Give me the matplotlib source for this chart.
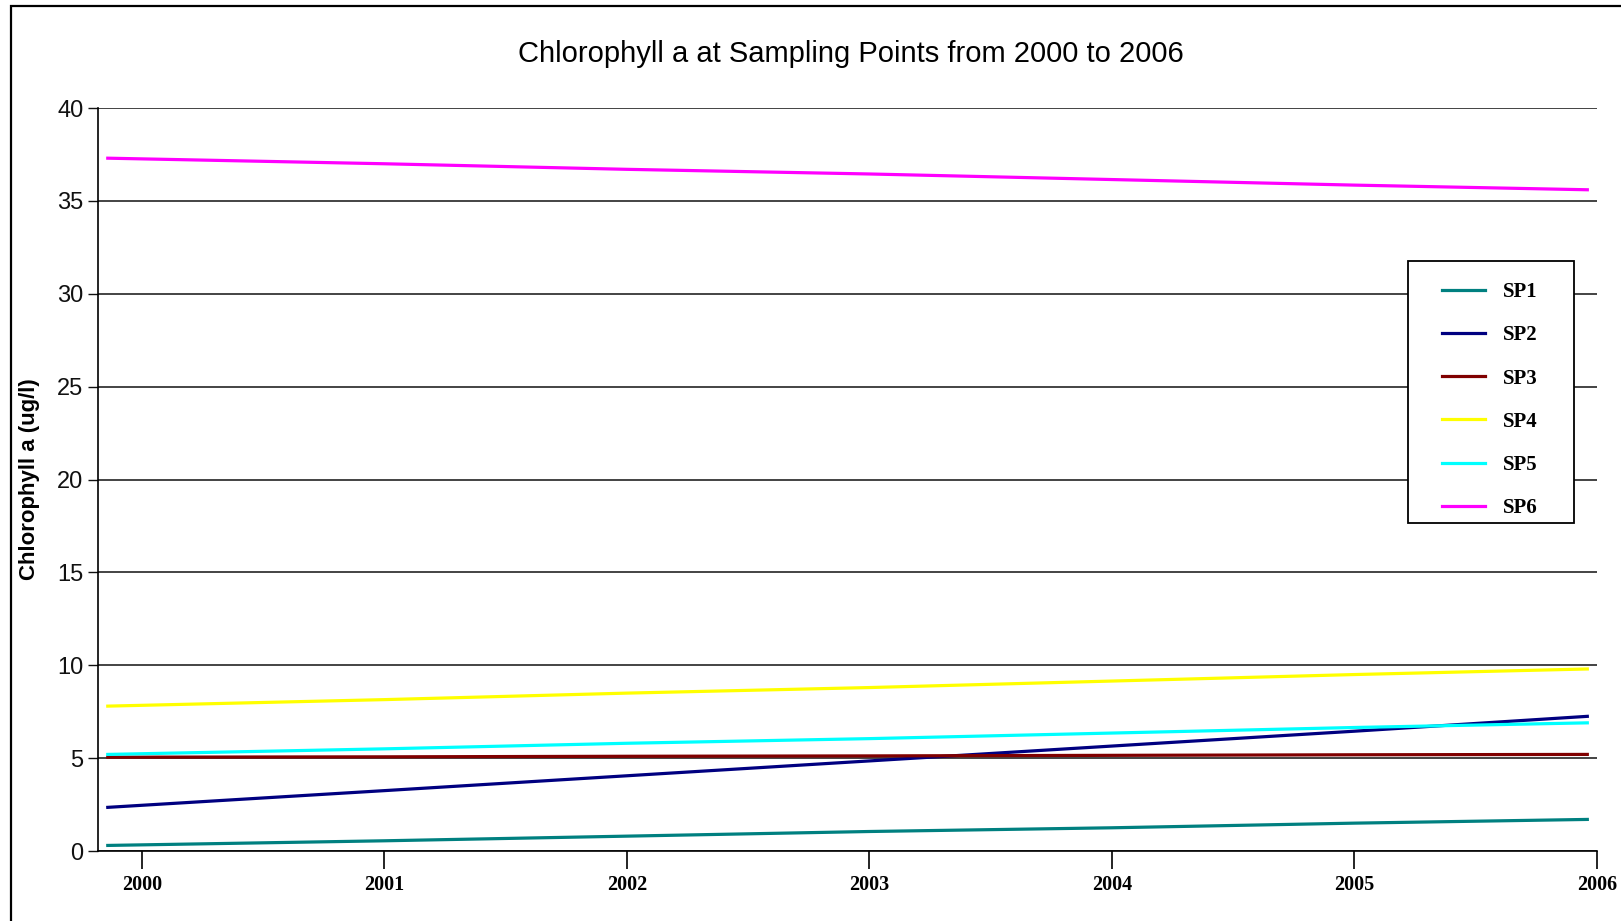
import numpy as np
import matplotlib
matplotlib.use("Agg")
from matplotlib import pyplot as plt
from matplotlib.patches import Rectangle

# data (chlorophyll a, ug/l)
years = [1999.86, 2001, 2002, 2003, 2004, 2005, 2005.96]
sp1 = [0.3, 0.55, 0.8, 1.05, 1.25, 1.5, 1.7]
sp2 = [2.35, 3.25, 4.05, 4.85, 5.65, 6.45, 7.25]
sp3 = [5.05, 5.07, 5.1, 5.12, 5.15, 5.18, 5.2]
sp4 = [7.8, 8.15, 8.5, 8.8, 9.15, 9.5, 9.8]
sp5 = [5.2, 5.5, 5.8, 6.05, 6.35, 6.65, 6.9]
sp6 = [37.3, 37.0, 36.7, 36.45, 36.15, 35.85, 35.6]

series_names = ["SP1", "SP2", "SP3", "SP4", "SP5", "SP6"]
series_colors = ["#008080", "#000080", "#800000", "#FFFF00", "#00FFFF", "#FF00FF"]
year_ticks = [2000, 2001, 2002, 2003, 2004, 2005, 2006]
y_ticks = [0, 5, 10, 15, 20, 25, 30, 35, 40]

fig = plt.figure(figsize=(16.21, 9.21), dpi=100)
ax = fig.add_axes([0.0605, 0.076, 0.9247, 0.8067])

for vals, name, col in zip([sp1, sp2, sp3, sp4, sp5, sp6], series_names, series_colors):
    ax.plot(years, vals, color=col, lw=2.3, label=name, zorder=3)

ax.set_xlim(1999.82, 2006.0)
ax.set_ylim(0, 40)
ax.set_yticks(y_ticks)
ax.set_xticks(year_ticks)
ax.set_xticklabels([str(y) for y in year_ticks], family="Liberation Serif",
                   fontweight="bold", fontsize=14.5)
ax.set_yticklabels([str(v) for v in y_ticks], family="Liberation Sans", fontsize=17)
ax.tick_params(axis="y", direction="out", length=7, width=1, pad=3.5, colors="#111111")
ax.tick_params(axis="x", direction="out", length=13, width=1.2, pad=4)

ax.yaxis.grid(True, color="#111111", lw=1.1, zorder=1)
ax.set_axisbelow(True)
for s in ["top", "right"]:
    ax.spines[s].set_visible(False)
ax.spines["left"].set_linewidth(1.2)
ax.spines["bottom"].set_linewidth(1.2)

ax.set_ylabel("Chlorophyll a (ug/l)", family="Liberation Sans", fontweight="bold",
              fontsize=16)
ax.yaxis.set_label_coords(-0.0387, 0.5)

fig.text(0.525, 0.941, "Chlorophyll a at Sampling Points from 2000 to 2006",
         ha="center", va="center", family="Liberation Sans", fontsize=21)

# legend box and entries
box = Rectangle((0.8686, 0.4321), 0.1024, 0.2845, transform=fig.transFigure,
                facecolor="white", edgecolor="black", lw=1.3, zorder=4)
fig.patches.append(box)
leg = fig.legend(loc="center", bbox_to_anchor=(0.919, 0.5655), frameon=False,
                 prop={"family": "Liberation Serif", "weight": "bold", "size": 15},
                 handlelength=2.1, handletextpad=0.85, labelspacing=1.11)
leg.set_zorder(5)

# outer border (top and left visible)
border = Rectangle((0.0068, -0.05), 1.2, 1.044, transform=fig.transFigure,
                   facecolor="none", edgecolor="black", lw=1.6)
fig.patches.append(border)

plt.savefig("out.png", dpi=100)
